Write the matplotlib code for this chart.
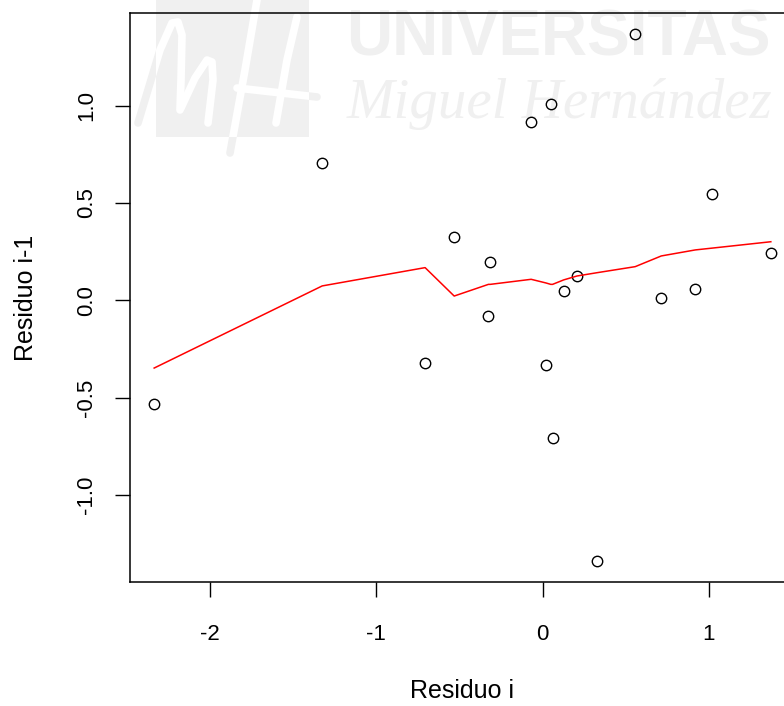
import numpy as np
import matplotlib.pyplot as plt
from matplotlib.patches import Rectangle

# residuos: i frente a i-1
residuo_i = [-2.337, -1.326, -0.707, -0.532, -0.315, -0.326, -0.069, 0.049, 0.021,
             0.060, 0.127, 0.207, 0.328, 0.557, 0.714, 0.919, 1.017, 1.373]
residuo_prev = [-0.532, 0.704, -0.323, 0.327, 0.199, -0.080, 0.915, 1.007, -0.331,
                -0.709, 0.048, 0.125, -1.339, 1.368, 0.014, 0.057, 0.546, 0.242]

# curva suavizada (lowess) en rojo
suav_x = [-2.337, -1.326, -0.707, -0.532, -0.326, -0.315, -0.069, 0.021, 0.049,
          0.060, 0.127, 0.207, 0.328, 0.557, 0.714, 0.919, 1.017, 1.373]
suav_y = [-0.348, 0.074, 0.168, 0.022, 0.082, 0.082, 0.108, 0.089, 0.082,
          0.082, 0.105, 0.125, 0.142, 0.173, 0.228, 0.259, 0.268, 0.301]

W, H = 784, 706
plt.rcParams['font.family'] = ['Liberation Sans', 'DejaVu Sans']

fig = plt.figure(figsize=(W / 100, H / 100), dpi=100)

# marca de agua (fondo)
bg = fig.add_axes([0, 0, 1, 1], zorder=0)
bg.set_xlim(0, W)
bg.set_ylim(H, 0)
bg.axis('off')
gris = '#f0f0f0'
trazos = [
    [(138, 123), (160, 50), (172, 23), (178, 22), (182, 35), (181, 80), (180, 110)],
    [(181, 108), (195, 78), (207, 60), (212, 62), (213, 80), (208, 123)],
    [(230, 153), (245, 70), (257, 0)],
    [(237, 88), (317, 97)],
    [(276, 123), (287, 60), (297, 17)],
]
for t in trazos:
    xs, ys = zip(*t)
    bg.plot(xs, ys, color=gris, lw=5.5, solid_capstyle='round', zorder=1)
rect = Rectangle((156, 0), 153, 137, facecolor=gris, edgecolor='none', zorder=2)
bg.add_patch(rect)
for t in trazos:
    xs, ys = zip(*t)
    ln, = bg.plot(xs, ys, color='white', lw=5.5, solid_capstyle='round', zorder=3)
    ln.set_clip_path(rect)
bg.text(346, 55, 'UNIVERSITAS', fontsize=46, fontweight='bold', color=gris,
        ha='left', va='baseline')
bg.text(347, 118, 'Miguel Hernández', fontsize=41, style='italic', color=gris,
        family=['Liberation Serif', 'DejaVu Serif'], ha='left', va='baseline')

# grafico principal
x = np.array(residuo_i)
y = np.array(residuo_prev)
xpad = 0.04 * (x.max() - x.min())
ypad = 0.04 * (y.max() - y.min())
x0, x1 = x.min() - xpad, x.max() + xpad
y0, y1 = y.min() - ypad, y.max() + ypad

left, right, top, bottom = 129.5, 795.5, 13.0, 582.0
ax = fig.add_axes([left / W, 1 - bottom / H, (right - left) / W, (bottom - top) / H],
                  zorder=1)
ax.set_facecolor('none')
ax.plot(residuo_i, residuo_prev, 'o', ms=7.5, mfc='none', mec='black', mew=1.0)
ax.plot(suav_x, suav_y, color='#ff0000', lw=1.1)
ax.set_xlim(x0, x1)
ax.set_ylim(y0, y1)
ax.set_xticks([-2, -1, 0, 1])
ax.set_xticklabels(['-2', '-1', '0', '1'])
ax.set_yticks([-1.0, -0.5, 0.0, 0.5, 1.0])
ax.set_yticklabels(['-1.0', '-0.5', '0.0', '0.5', '1.0'], rotation=90, va='center')
ax.tick_params(length=10.5, width=1.0, labelsize=16, color='black')
ax.tick_params(axis='x', pad=19.5)
ax.tick_params(axis='y', pad=13)
for s in ax.spines.values():
    s.set_linewidth(1.1)

fig.text(462.5 / W, 1 - 691 / H, 'Residuo i', fontsize=18, ha='center', va='center')
fig.text(26 / W, 1 - 297.5 / H, 'Residuo i-1', fontsize=18, ha='center', va='center',
         rotation=90)

fig.savefig('out.png', dpi=100)
